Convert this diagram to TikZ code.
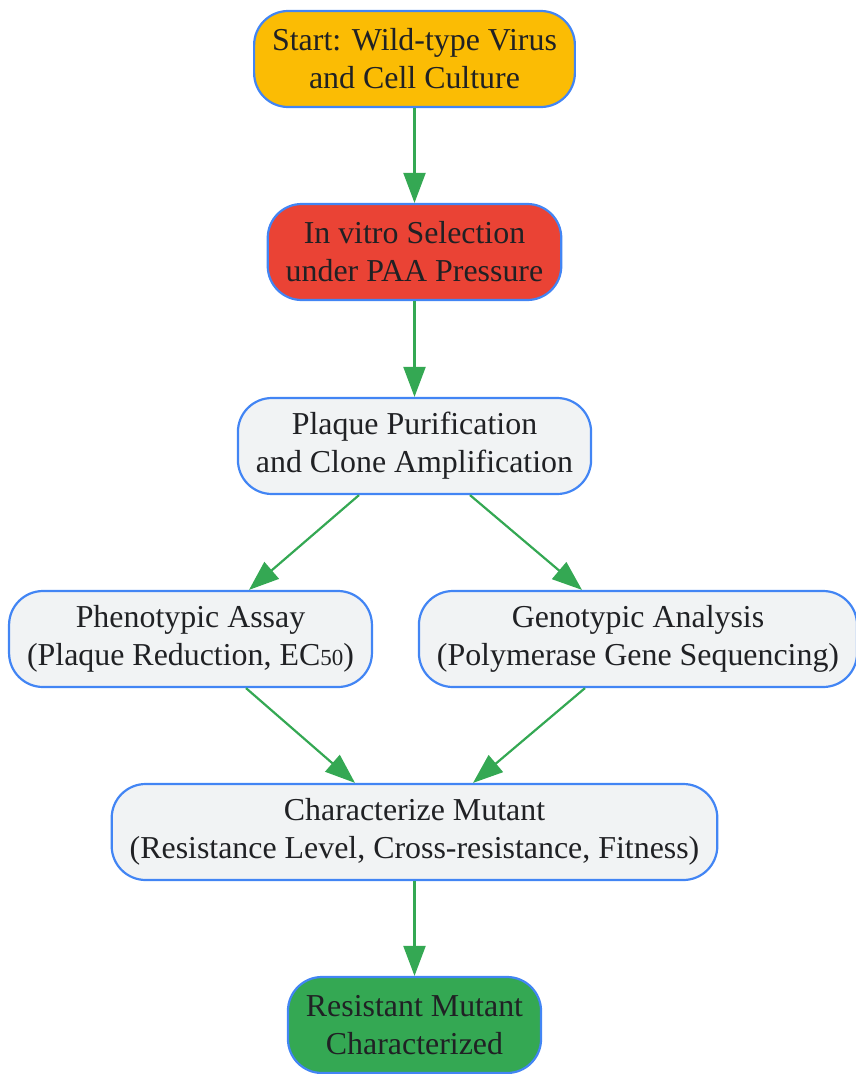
\documentclass[tikz,border=0pt]{standalone}
\usepackage{fontspec}
\setmainfont{Liberation Serif}
\usetikzlibrary{arrows.meta}
\definecolor{gblue}{HTML}{4285F4}
\definecolor{gyellow}{HTML}{FBBC04}
\definecolor{gred}{HTML}{EA4335}
\definecolor{ggreen}{HTML}{34A853}
\definecolor{ggrey}{HTML}{F1F3F4}
\definecolor{gtext}{HTML}{202124}
\newcommand{\sbs}[1]{{\fontsize{23}{23}\selectfont #1}}

\begin{document}
\begin{tikzpicture}[x=1pt,y=-1pt]
\tikzstyle{every node}=[draw=gblue, line width=2.2pt, rounded corners=34pt, minimum height=96pt,
  inner xsep=18pt, align=center, text=gtext, font=\fontsize{31.9}{38}\selectfont]
\tikzstyle{flow}=[draw=ggreen, line width=2.2pt, -{Triangle[length=30pt,width=22pt]}]
\useasboundingbox (0,0) rectangle (855,1074);
\node (start) [fill=gyellow] at (414.5,59) {Start: Wild-type Virus\\and Cell Culture};
\node (select) [fill=gred] at (414.5,252) {In vitro Selection\\under PAA Pressure};
\node (purify) [fill=ggrey] at (414.5,446) {Plaque Purification\\and Clone Amplification};
\node (pheno) [fill=ggrey] at (190.5,639) {Phenotypic Assay\\(Plaque Reduction, EC\sbs{50})};
\node (geno) [fill=ggrey] at (638,639) {Genotypic Analysis\\(Polymerase Gene Sequencing)};
\node (charact) [fill=ggrey] at (414.5,832) {Characterize Mutant\\(Resistance Level, Cross-resistance, Fitness)};
\node (done) [fill=ggreen] at (414.5,1025) {Resistant Mutant\\Characterized};
\draw [flow] (start) -- (select);
\draw [flow] (select) -- (purify);
\draw [flow] ([xshift=-55.5pt]purify.south) -- ([xshift=58.5pt]pheno.north);
\draw [flow] ([xshift=55.5pt]purify.south) -- ([xshift=-56pt]geno.north);
\draw [flow] ([xshift=55.5pt]pheno.south) -- ([xshift=-59.5pt]charact.north);
\draw [flow] ([xshift=-53pt]geno.south) -- ([xshift=58.5pt]charact.north);
\draw [flow] (charact) -- (done);
\end{tikzpicture}
\end{document}
